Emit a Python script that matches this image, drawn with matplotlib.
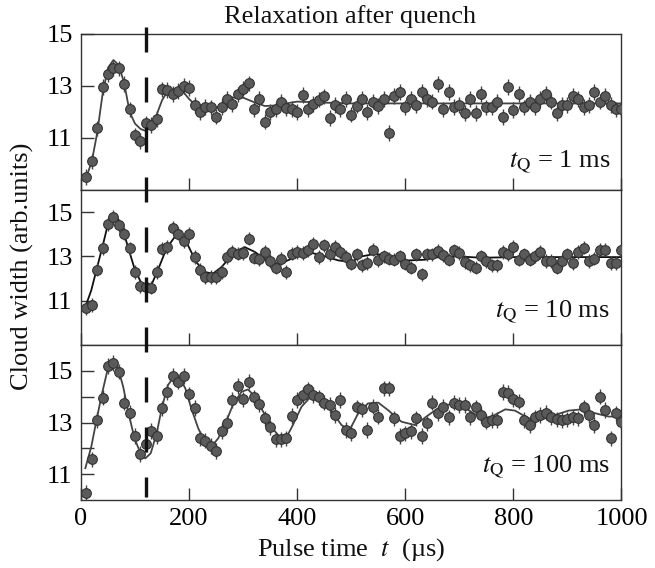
#!usr/bin/env python3

'''
Three stacked panels: cloud width vs pulse time after a quench,
for three quench times, with the damped fits drawn through the points.
'''

import matplotlib
matplotlib.use('Agg')
import matplotlib.pyplot as plt
import matplotlib.transforms as mtransforms

# pulse times of the measured points (us)
T_POINTS = list(range(10, 1001, 10))

# cloud widths, one value per pulse time
WIDTH_1MS = [
    9.5, 10.1, 11.37, 12.97, 13.46, 13.68, 13.68, 13.08, 12.1, 11.1,
    10.88, 11.56, 11.5, 11.72, 12.87, 12.85, 12.7, 12.8, 13.0, 12.93,
    12.27, 12.0, 12.2, 12.18, 11.82, 12.2, 12.5, 12.3, 12.68, 12.9,
    13.1, 12.1, 12.5, 11.63, 12.0, 12.1, 12.4, 12.15, 12.12, 12.0,
    12.65, 12.12, 12.3, 12.48, 12.6, 11.78, 12.28, 12.1, 12.49, 11.9,
    12.25, 12.49, 12.0, 12.4, 12.22, 12.5, 11.2, 12.62, 12.78, 12.18,
    12.49, 12.27, 12.78, 12.49, 12.4, 13.08, 12.1, 12.78, 12.2, 12.27,
    11.97, 12.49, 11.97, 12.69, 12.18, 12.18, 12.4, 11.8, 12.97, 12.08,
    12.69, 12.18, 12.4, 12.18, 12.49, 12.69, 12.4, 11.97, 12.27, 12.27,
    12.62, 12.49, 12.2, 12.27, 12.78, 12.4, 12.62, 12.27, 12.1, 12.1,
]

WIDTH_10MS = [
    10.65, 10.8, 12.4, 13.37, 14.47, 14.78, 14.4, 14.02, 13.37, 12.3,
    11.65, 11.62, 11.59, 12.3, 13.35, 13.42, 14.28, 14.02, 13.68, 14.02,
    12.97, 12.4, 12.07, 12.07, 12.07, 12.3, 12.97, 13.2, 13.12, 13.15,
    13.8, 12.94, 12.87, 13.2, 12.79, 12.49, 12.9, 12.3, 13.12, 13.2,
    13.15, 13.27, 13.57, 12.97, 13.5, 13.1, 13.42, 13.2, 12.97, 12.67,
    13.09, 12.6, 12.7, 13.3, 12.82, 13.0, 12.9, 12.85, 13.0, 12.67,
    12.49, 13.09, 12.19, 13.09, 13.09, 13.24, 13.05, 12.85, 13.27, 13.15,
    12.75, 12.6, 12.49, 13.0, 12.79, 12.6, 12.6, 13.2, 13.09, 13.42,
    12.85, 13.09, 12.85, 13.0, 13.2, 12.79, 12.79, 12.49, 12.79, 13.09,
    12.7, 13.2, 13.39, 12.79, 12.9, 13.3, 13.3, 12.7, 12.7, 13.27,
]

WIDTH_100MS = [
    10.28, 11.57, 13.1, 13.96, 15.19, 15.3, 14.97, 13.77, 13.38, 12.48,
    11.78, 12.17, 12.68, 12.48, 13.55, 14.19, 14.8, 14.58, 14.8, 14.09,
    13.57, 12.39, 12.3, 12.09, 11.9, 12.68, 12.99, 13.87, 14.41, 13.9,
    14.58, 13.97, 13.72, 13.16, 12.81, 12.35, 12.35, 12.39, 13.25, 13.87,
    14.06, 14.28, 14.06, 13.97, 13.77, 13.68, 13.29, 13.87, 12.71, 12.6,
    13.59, 13.51, 12.71, 13.61, 13.23, 14.32, 14.32, 13.16, 12.48, 12.58,
    12.68, 13.16, 12.48, 12.97, 13.77, 13.35, 13.61, 13.2, 13.77, 13.68,
    13.68, 13.2, 13.59, 13.29, 13.03, 13.1, 13.1, 14.19, 14.15, 13.9,
    13.81, 13.1, 12.9, 13.2, 13.29, 13.38, 13.2, 13.12, 13.1, 13.12,
    13.2, 13.16, 13.59, 13.29, 12.9, 14.0, 13.48, 12.39, 13.35, 13.03,
]

ERR = 0.3

# fitted curves
FIT_T_1MS = [10, 20, 30, 40, 50, 60, 70, 80, 90, 100, 110, 120, 130, 140,
             150, 160, 170, 180, 190, 200, 220, 240, 260, 280, 300, 320,
             340, 360, 380, 400, 450, 500, 600, 700, 800, 900, 1000]
FIT_V_1MS = [9.5, 10.1, 11.2, 12.7, 13.7, 14.0, 13.8, 13.1, 12.0, 11.55,
             11.35, 11.27, 11.45, 11.9, 12.45, 12.8, 12.88, 12.85, 12.75,
             12.5, 12.1, 12.05, 12.27, 12.55, 12.55, 12.38, 12.23, 12.25,
             12.33, 12.4, 12.36, 12.33, 12.33, 12.33, 12.33, 12.33, 12.33]

FIT_T_10MS = [8, 19, 30, 41, 50, 59, 67, 78, 87, 99, 112, 121, 130, 142,
              158, 173, 186, 198, 213, 229, 244, 260, 284, 303, 322, 346,
              365, 390, 420, 445, 476, 500, 519, 544, 575, 605, 636, 667,
              698, 741, 803, 896, 1000]
FIT_V_10MS = [10.72, 11.47, 12.52, 13.57, 14.47, 14.89, 14.77, 14.17, 13.42,
              12.45, 11.77, 11.59, 11.7, 12.37, 13.35, 13.87, 13.87, 13.5,
              12.75, 12.3, 12.22, 12.52, 13.2, 13.42, 13.2, 12.75, 12.64,
              12.9, 13.2, 13.05, 12.82, 12.75, 13.0, 13.12, 13.0, 12.82,
              12.85, 13.0, 13.0, 12.94, 12.97, 12.97, 12.97]

FIT_T_100MS = [8, 19, 30, 39, 49, 58, 67, 78, 88, 99, 110, 119, 129, 140,
               150, 161, 173, 183, 193, 204, 217, 229, 241, 254, 266, 281,
               297, 309, 322, 337, 352, 368, 380, 392, 408, 426, 442, 460,
               482, 497, 513, 531, 550, 568, 593, 618, 643, 667, 692, 717,
               741, 760, 785, 803, 828, 852, 877, 902, 927, 951, 976, 1000]
FIT_V_100MS = [11.23, 12.06, 13.23, 14.13, 15.03, 15.35, 15.22, 14.39, 13.35,
               12.39, 11.81, 11.61, 11.81, 12.58, 13.61, 14.45, 14.8, 14.71,
               14.32, 13.55, 12.77, 12.26, 12.06, 12.39, 12.9, 13.68, 14.19,
               14.28, 14.0, 13.42, 12.84, 12.42, 12.42, 12.9, 13.61, 14.02,
               13.97, 13.55, 12.9, 12.71, 13.36, 13.74, 13.77, 13.48, 13.03,
               12.9, 13.29, 13.64, 13.74, 13.48, 13.16, 13.23, 13.51, 13.46,
               13.16, 13.12, 13.29, 13.46, 13.51, 13.36, 13.23, 13.23]

LABELS = ['1 ms', '10 ms', '100 ms']
Y_LIMITS = [(9, 15), (9, 16), (10, 16)]
X_TICKS = [0, 200, 400, 600, 800, 1000]
QUENCH_LINE = 120

plt.rcParams['font.family'] = ['Liberation Serif', 'DejaVu Serif']
plt.rcParams['mathtext.fontset'] = 'stix'

SPINE = '#333333'
FS = 19


def draw_panel(ax, widths, fit_t, fit_v, fit_color, label, ylim, minor):
    '''
    one panel: the points with error bars, the fit and the tQ label
    '''
    ax.plot(fit_t, fit_v, color=fit_color, lw=1.3, zorder=2)
    ax.errorbar(T_POINTS, widths, yerr=ERR, fmt='o', ms=7,
                mfc='#5a5a5a', mec='#333333', mew=0.8,
                ecolor='#444444', elinewidth=1.0, capsize=0, zorder=3)
    ax.set_xlim(0, 1000)
    ax.set_ylim(*ylim)
    ax.set_yticks([11, 13, 15])
    if minor:
        ax.set_yticks(minor, minor=True)
    ax.set_xticks(X_TICKS)
    ax.tick_params(direction='in', length=9, width=1, color=SPINE,
                   labelsize=FS, pad=6, top=False, right=False)
    ax.tick_params(which='minor', direction='in', length=9, width=1,
                   color=SPINE)
    for side in ax.spines.values():
        side.set_color(SPINE)
        side.set_linewidth(1.0)
    ax.text(0.979, 0.15 if label == '1 ms' else 0.18,
            r'$t_{\mathrm{Q}}$ = ' + label, transform=ax.transAxes,
            ha='right', va='baseline', fontsize=FS, color='#111111')


fig = plt.figure(figsize=(6.55, 5.68), dpi=100)
left, width = 81 / 655, 540.5 / 655
ax1 = fig.add_axes([left, 1 - 190 / 568, width, 156 / 568])
ax2 = fig.add_axes([left, 1 - 345 / 568, width, 155 / 568])
ax3 = fig.add_axes([left, 1 - 500 / 568, width, 155 / 568])

draw_panel(ax1, WIDTH_1MS, FIT_T_1MS, FIT_V_1MS, '#444444',
           LABELS[0], Y_LIMITS[0], None)
draw_panel(ax2, WIDTH_10MS, FIT_T_10MS, FIT_V_10MS, '#111111',
           LABELS[1], Y_LIMITS[1], None)
draw_panel(ax3, WIDTH_100MS, FIT_T_100MS, FIT_V_100MS, '#444444',
           LABELS[2], Y_LIMITS[2], [12, 14])

ax1.tick_params(labelbottom=False)
ax2.tick_params(labelbottom=False)

# dashed marker for the quench time, running through all three panels
trans = mtransforms.blended_transform_factory(ax3.transData, fig.transFigure)
line = plt.Line2D([QUENCH_LINE, QUENCH_LINE], [1 - 27 / 568, 1 - 497 / 568],
                  transform=trans, color='#111111', lw=2.4,
                  dashes=(7.5, 7.5), zorder=5)
fig.add_artist(line)

fig.text(350.5 / 655, 1 - 23 / 568, 'Relaxation after quench',
         ha='center', va='baseline', fontsize=FS, color='#111111')
fig.text(22 / 655, 1 - 266 / 568, 'Cloud width (arb.units)', rotation=90,
         ha='center', va='center', fontsize=FS, color='#111111')
fig.text(351 / 655, 1 - 556 / 568, r'Pulse time  $t$  (µs)',
         ha='center', va='baseline', fontsize=FS, color='#111111')

fig.savefig('out.png', dpi=100)
